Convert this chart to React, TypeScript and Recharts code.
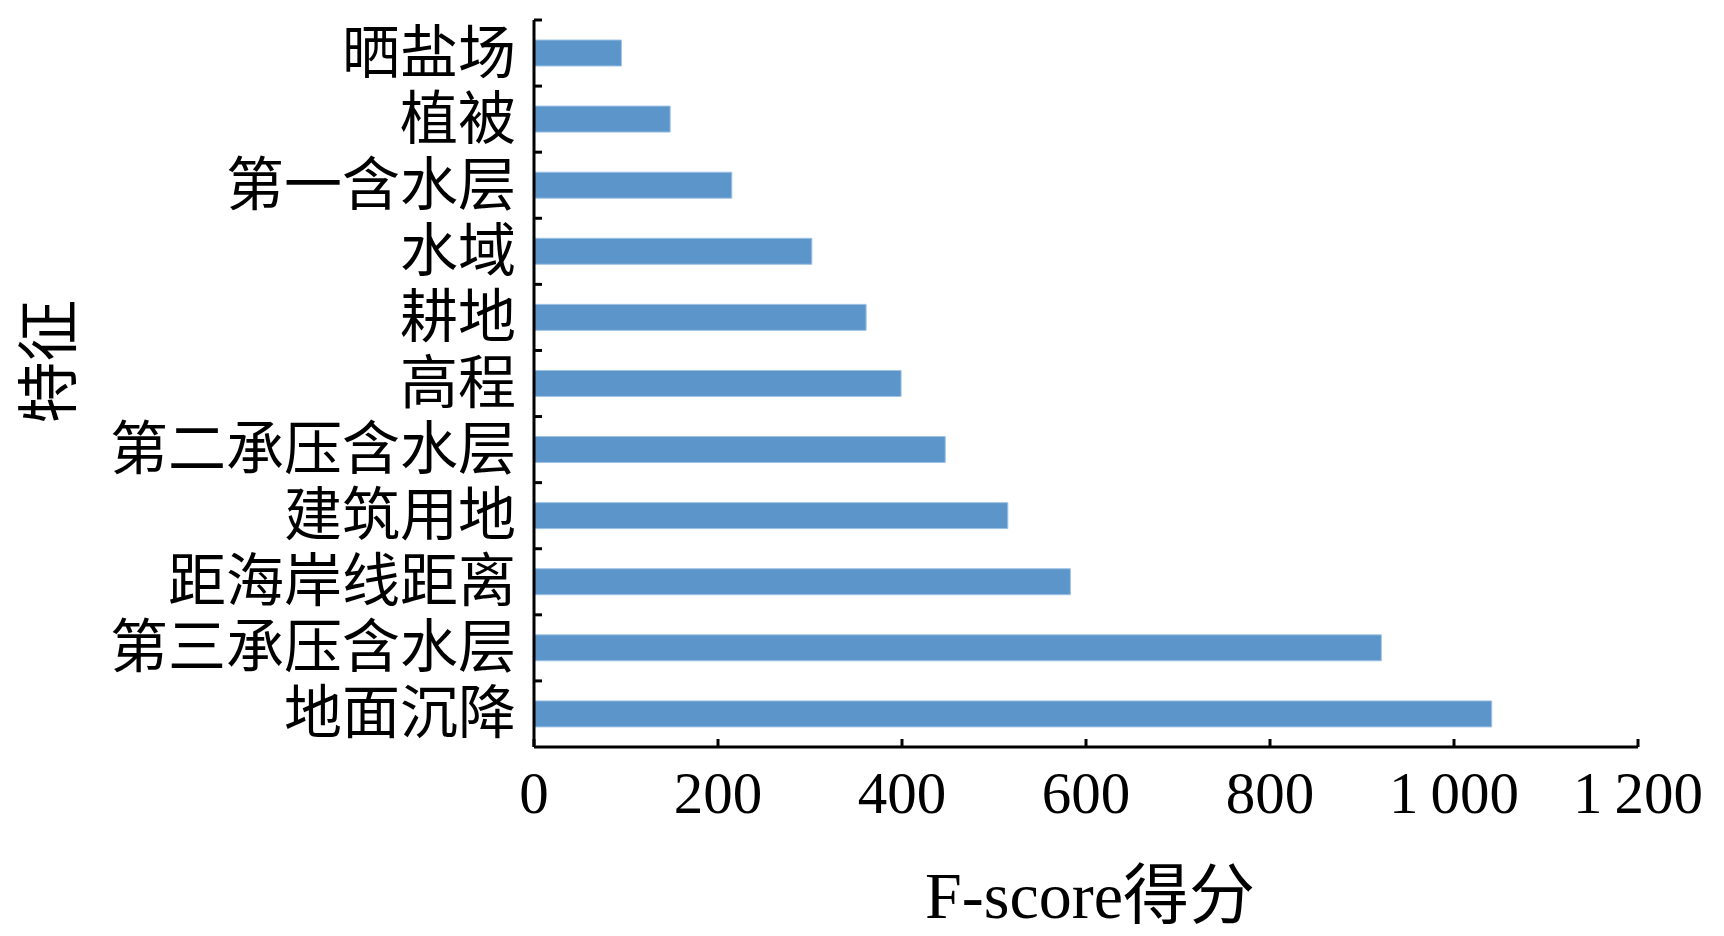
import { BarChart, Bar, XAxis, YAxis, Label } from 'recharts';

const features = ['晒盐场', '植被', '第一含水层', '水域', '耕地', '高程', '第二承压含水层', '建筑用地', '距海岸线距离', '第三承压含水层', '地面沉降'];
const scores = [95, 148, 215, 302, 361, 399, 447, 515, 583, 921, 1041];
const xTicks = [0, 200, 400, 600, 800, 1000, 1200];

const FONT = "'Liberation Serif', 'Noto Sans CJK SC', serif";
const Y_GAP = 18;
const data = features.map((f, i) => ({ feature: f, score: scores[i] }));

const fmt = (v: number) => (v >= 1000 ? `${Math.floor(v / 1000)}\u2009${String(v % 1000).padStart(3, '0')}` : String(v));

// category label plus an inward tick mark on the band's top edge
function FeatureTick(props: any) {
  const { x, y, payload } = props;
  const axisX = x + Y_GAP;
  const edge = y - (payload.offset || 0);
  return (
    <g>
      <line x1={axisX} x2={axisX + 8} y1={edge} y2={edge} stroke="#000" strokeWidth={3} />
      <text x={x} y={y} textAnchor="end" dominantBaseline="central" fill="#000"
        fontSize={58} fontFamily={FONT}>{payload.value}</text>
    </g>
  );
}

export default function App() {
  return (
    <div style={{ width: 1708, height: 928 }}>
      <BarChart width={1708} height={928} data={data} layout="vertical"
        margin={{ top: 12, right: 78, bottom: 8, left: 0 }}>
        <XAxis type="number" domain={[0, 1200]} ticks={xTicks} interval={0} height={181}
          axisLine={{ stroke: '#000', strokeWidth: 3 }} tickLine={{ stroke: '#000', strokeWidth: 3 }}
          tickSize={-8} tickMargin={32} tickFormatter={fmt}
          tick={{ fill: '#000', fontSize: 59, fontFamily: FONT }}>
          <Label content={({ viewBox }: any) => (
            <text x={viewBox.x + viewBox.width / 2 + 4} y={viewBox.y + viewBox.height - 10}
              textAnchor="middle" fill="#000" fontSize={66} fontFamily={FONT}>F-score得分</text>
          )} />
        </XAxis>
        <YAxis type="category" dataKey="feature" width={526}
          axisLine={{ stroke: '#000', strokeWidth: 3 }} tickLine={false}
          tickSize={0} tickMargin={Y_GAP} interval={0} tick={<FeatureTick />}>
          <Label content={({ viewBox }: any) => {
            const x = viewBox.x + 42;
            const y = viewBox.y + viewBox.height / 2 - 22;
            return (
              <text x={x} y={y} transform={`rotate(-90 ${x} ${y})`} textAnchor="middle"
                dominantBaseline="central" fill="#000" fontSize={62} fontFamily={FONT}>特征</text>
            );
          }} />
        </YAxis>
        <Bar dataKey="score" fill="#5B95C9" stroke="#9fc2e6" strokeWidth={1} barSize={26}
          isAnimationActive={false} />
      </BarChart>
    </div>
  );
}
